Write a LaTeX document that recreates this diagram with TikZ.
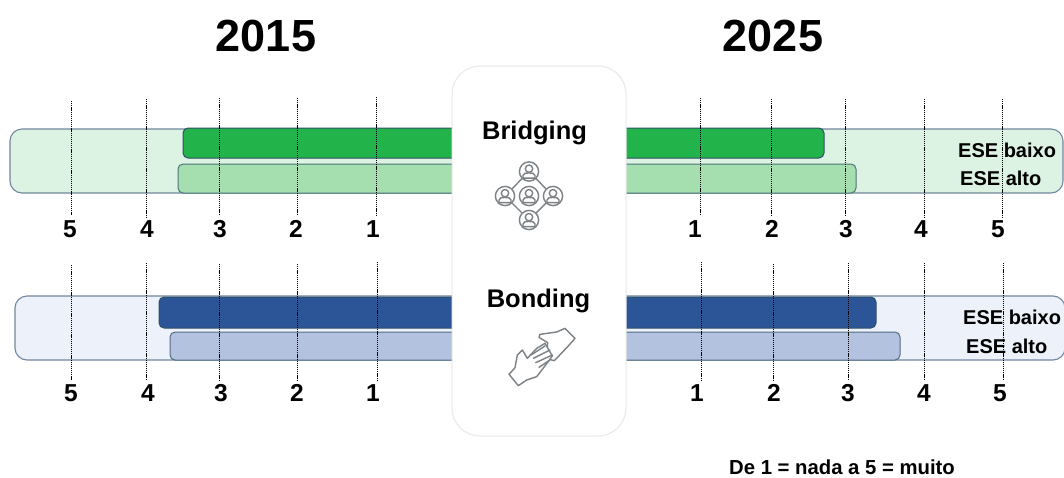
\documentclass[tikz,border=0pt]{standalone}
\usepackage{fontspec}
\setmainfont{Liberation Sans}
\definecolor{gbg}{HTML}{DCF2E2}
\definecolor{gdk}{HTML}{22B34A}
\definecolor{glt}{HTML}{A5DFB0}
\definecolor{bbg}{HTML}{EDF1FA}
\definecolor{bdk}{HTML}{2C5597}
\definecolor{blt}{HTML}{B3C2DE}
\definecolor{edgea}{HTML}{72889E}
\definecolor{edgeb}{HTML}{2F5168}
\definecolor{icon}{HTML}{7C8185}
\newcommand{\person}[2]{%
  \fill[white] (#1,#2) circle (10);
  \draw[iconline] (#1,#2) circle (9.6);
  \draw[iconline] (#1,#2-2.8) circle (3.7);
  \draw[iconline] (#1-6,#2+6.6) -- (#1-6,#2+4) .. controls (#1-6,#2+1.8) and (#1-3,#2+1.4) .. (#1,#2+1.4)
     .. controls (#1+3,#2+1.4) and (#1+6,#2+1.8) .. (#1+6,#2+4) -- (#1+6,#2+6.6) -- cycle;
}
\tikzset{
  x=1pt,y=-1pt,
  tick/.style={dash pattern=on 1.2pt off 0.9pt,black,line width=0.9pt},
  outer/.style={line width=1.1pt,rounded corners=12pt},
  bar/.style={line width=1pt,draw=edgeb,rounded corners=5pt},
  iconline/.style={draw=icon,line width=1.4pt},
  num/.style={font=\fontsize{24.5}{24.5}\selectfont\bfseries,inner sep=0pt,anchor=center},
  ese/.style={font=\fontsize{20}{20}\selectfont\bfseries,inner sep=0pt,anchor=west},
  yr/.style={font=\fontsize{45}{45}\selectfont\bfseries,inner sep=0pt,anchor=center},
  ttl/.style={font=\fontsize{25.5}{25.5}\selectfont\bfseries,inner sep=0pt,anchor=center},
}
\begin{document}
\begin{tikzpicture}
\useasboundingbox (0,0) rectangle (1064,477);
\fill[white] (0,0) rectangle (1064,477);
% green band
\draw[outer,fill=gbg,draw=edgea] (10,129) rectangle (1063,193);
\draw[bar,fill=gdk] (183,128) rectangle (824,158);
\draw[bar,fill=glt,draw=edgeb!75!glt] (178,164) rectangle (856,193);
% blue band
\draw[outer,fill=bbg,draw=edgea] (15,296) rectangle (1065,360);
\draw[bar,fill=bdk] (159,297) rectangle (876,328);
\draw[bar,fill=blt,draw=edgeb!75!blt] (170,332) rectangle (900,360);
% ticks
\foreach \x/\a/\b in {71/101/215,146/99/218,219/98/215,297/98/215,376/97/215,700/98/215,771/99/215,845/99/215,924/99/218,1002/99/218}
  \draw[tick] (\x,\a) -- (\x,\b);
\foreach \x/\a/\b in {71/265/380,146/263/380,219/264/380,297/264/380,377/262/380,701/262/380,773/264/380,848/263/380,924/263/380,1003/263/380}
  \draw[tick] (\x,\a) -- (\x,\b);
% card
\draw[draw=black!9,fill=white,line width=1pt,rounded corners=28pt] (452,66) rectangle (626,436);
% text
\node[yr] (y1) at (266,36) {2015};
\node[yr] (y2) at (773,36) {2025};
\node[ttl] (br) at (534.5,133) {Bridging};
\node[ttl] (bo) at (538.5,301) {Bonding};
\foreach \n/\x/\t in {a/70/5,b/147/4,c/220/3,d/296/2,e/373/1,f/695/1,g/772/2,h/846/3,i/921/4,j/998/5}
  \node[num] (t\n) at (\x,229) {\t};
\foreach \n/\x/\t in {a/71/5,b/148/4,c/221/3,d/297/2,e/373/1,f/697/1,g/774/2,h/848/3,i/924/4,j/1000/5}
  \node[num] (u\n) at (\x,393) {\t};
\node[ese] (e1) at (958,150) {ESE baixo};
\node[ese] (e2) at (960,178) {ESE alto};
\node[ese] (e3) at (963,317) {ESE baixo};
\node[ese] (e4) at (966,346) {ESE alto};
\node[inner sep=0pt,font=\fontsize{20.3}{20.3}\selectfont\bfseries] (leg) at (842,467.5) {De 1 = nada a 5 = muito};
% bridging icon
\draw[iconline] (529,171.5) -- (553,196) -- (529,220) -- (505,196) -- cycle;
\person{529}{171.5}\person{505}{196}\person{529}{196}\person{553}{196}\person{529}{220}
% bonding icon
\begin{scope}[shift={(495,320)},x=0.3333pt,y=-0.3333pt,iconline,line join=round,line cap=round]
  \draw[fill=white] (210,25) -- (240,55) -- (218,80) -- (178,122) -- (163,118) -- (155,100) -- (158,68) -- (132,52) -- (135,43) -- (185,36) -- cycle;
  \draw[fill=white] (42,163) -- (70,197) -- (95,180) -- (125,170) -- (152,135) -- (172,108) -- (150,70) -- (125,85) -- (97,115) -- (82,90) -- (67,105) -- (60,143) -- cycle;
  \draw (108,105) -- (150,78);
  \draw (115,115) -- (165,90);
  \draw (122,128) -- (172,105);
  \draw (132,142) -- (165,120);
\end{scope}
\end{tikzpicture}
\end{document}
